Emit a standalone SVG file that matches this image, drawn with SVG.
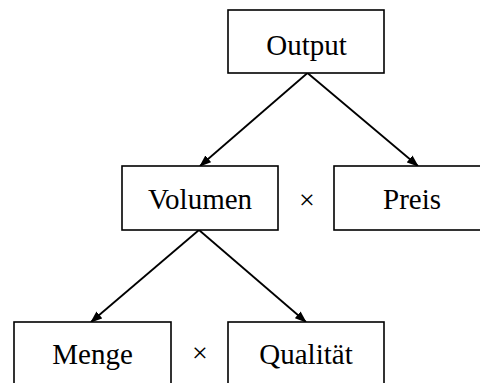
<svg xmlns="http://www.w3.org/2000/svg" width="480" height="383" viewBox="0 0 480 383">
<defs>
<marker id="ah" markerWidth="12" markerHeight="9" refX="11" refY="4.5" orient="auto" markerUnits="userSpaceOnUse">
<path d="M0,0 L12,4.5 L0,9 z" fill="#000"/>
</marker>
<style>
.box{fill:#fff;stroke:#000;stroke-width:1.6}
.lbl{font-family:"Liberation Serif","Times New Roman",serif;font-size:29px;fill:#000;text-anchor:middle}
.x{font-family:"Liberation Serif","Times New Roman",serif;font-size:28px;fill:#000;text-anchor:middle}
.con{stroke:#000;stroke-width:1.8;fill:none;marker-end:url(#ah)}
</style>
</defs>
<rect width="480" height="383" fill="#fff"/>
<g id="connectors">
<line class="con" x1="307.5" y1="73" x2="200" y2="166"/>
<line class="con" x1="307.5" y1="73" x2="418" y2="166"/>
<line class="con" x1="199" y1="230" x2="91" y2="322"/>
<line class="con" x1="199" y1="230" x2="306" y2="322"/>
</g>
<g id="output">
<rect class="box" x="228" y="10" width="156" height="63"/>
<text class="lbl" x="306.5" y="55">Output</text>
</g>
<g id="volumen">
<rect class="box" x="122" y="166" width="156" height="64"/>
<text class="lbl" x="200" y="209">Volumen</text>
</g>
<g id="preis">
<rect class="box" x="334" y="166" width="156" height="64"/>
<text class="lbl" x="412" y="209">Preis</text>
</g>
<g id="menge">
<rect class="box" x="14" y="322" width="157" height="64"/>
<text class="lbl" x="92.5" y="364">Menge</text>
</g>
<g id="qualitaet">
<rect class="box" x="228" y="322" width="156" height="64"/>
<text class="lbl" x="306" y="364">Qualität</text>
</g>
<g id="operators">
<text class="x" x="307" y="209">×</text>
<text class="x" x="200" y="362">×</text>
</g>
</svg>
